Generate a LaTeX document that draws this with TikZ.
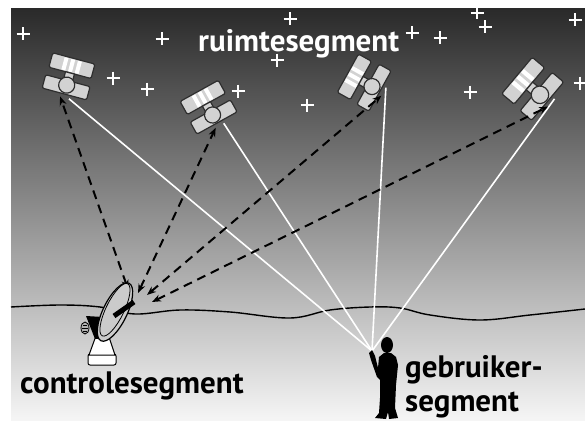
\documentclass[tikz,border=0pt]{standalone}
\usepackage{fontspec}
\setmainfont{PT Sans}
\usetikzlibrary{arrows.meta}
\definecolor{skytop}{HTML}{2A2A2A}
\definecolor{skymid}{HTML}{8C8C8C}
\definecolor{skybot}{HTML}{F5F5F5}
\definecolor{satgrey}{HTML}{D2D2D2}
\definecolor{outline}{HTML}{2E2E2E}
\tikzstyle{segtext} = [font=\fontsize{31}{34}\selectfont\bfseries, inner sep=0pt, anchor=base west]
\tikzstyle{ctrl} = [line width=2pt, dash pattern=on 9pt off 6pt, {Stealth[length=9pt,width=7pt]}-{Stealth[length=9pt,width=7pt]}]
\tikzstyle{user} = [white, line width=1.6pt]
\tikzstyle{ground} = [line width=1.4pt, black]
\tikzstyle{satpart} = [draw=outline, fill=satgrey, line width=1.2pt]
\tikzset{
  sat/.pic={
    \draw[satpart, rounded corners=1.5pt] (-19,-23) rectangle (19,-10);
    \foreach \u in {-8,-2,4} \fill[white] (\u,-22) rectangle ++(3.5,11);
    \draw[satpart] (-4,-10) rectangle (4,-3);
    \draw[satpart, rounded corners=2pt] (-20,-3) rectangle (20,9);
    \draw[satpart] (0,1) circle (7);
    \coordinate (-ctl) at (-3,12);
    \coordinate (-usr) at (5,12);
  },
  twinkle/.pic={
    \draw[white, line width=1.8pt] (-6.5,0) -- (6.5,0) (0,-6.5) -- (0,6.5);
  }
}
\begin{document}
\begin{tikzpicture}[x=1pt, y=-1pt]
\useasboundingbox (0,0) rectangle (585,420);
\fill[white] (0,0) rectangle (585,420);
\shade[top color=skytop, middle color=skymid, bottom color=skybot] (11,9) rectangle (585,420);

\foreach \p in {(23,34),(162,39),(290,19),(277,60),(113,78),(147,89),(238,91),(307,105),
  (412,33),(440,38),(477,13),(485,27),(575,20),(470,92),(580,83)}
  \pic at \p {twinkle};

\draw[ground] plot[smooth, tension=0.6] coordinates {(11,307) (60,305) (100,307) (135,314)
  (180,310) (230,312) (290,318) (330,310) (370,307) (400,308) (430,315) (480,320) (530,315) (585,309)};

\node (ruimte) [segtext, white] at (198,52) {ruimtesegment};
\node (controle) [segtext] at (20,393) {controlesegment};
\node (gebruiker) [segtext, anchor=north west, align=left] at (405,355) {gebruiker-\\segment};

\pic[rotate=-15, scale=1.15] (s1) at (67,84) {sat};
\pic[rotate=29, scale=1.15] (s2) at (212,114) {sat};
\pic[rotate=61, scale=1.15] (s3) at (371,86) {sat};
\pic[rotate=50, scale=1.25] (s4) at (539,94) {sat};

\coordinate (hand) at (372,351);
\coordinate (d1) at (128,289);
\coordinate (d2) at (138,293);
\coordinate (d3) at (147,295);
\coordinate (d4) at (152,302);

\foreach \s in {1,...,4}
  \draw[user] (hand) -- (s\s-usr);
\foreach \s in {1,...,4}
  \draw[ctrl] (d\s) -- (s\s-ctl);

% dish
\draw[fill=white, line width=1pt, rounded corners=2pt] (88,354) rectangle (116,365);
\draw[fill=white, line width=1pt] (97,333) -- (89,355) -- (115,355) -- (107,331) -- cycle;
\fill[black] (86,316) -- (103,317) -- (109,338) -- (95,339) -- cycle;
\draw[fill=gray!60, line width=0.8pt] (85,328) ellipse (4 and 6);
\draw[line width=0.6pt] (83,325) -- (87,325) (82,328) -- (88,328) (83,331) -- (87,331);
\draw[fill=skymid!40!skybot, line width=1.2pt, rotate around={64:(115,312)}] (115,312) ellipse (32 and 12);
\draw[line width=0.8pt, rotate around={64:(115,312)}] (117,311) ellipse (29 and 9);
\draw[line width=5pt] (114,316) -- (134,302);

% user
\fill[black] (387,345) ellipse (6 and 8);
\fill[black] (384,353) -- (379,357) -- (378,368) -- (375,356) -- (372,350) -- (369,353) -- (371,360)
  -- (377,377) -- (380,380) -- (380,398) -- (379,413) -- (375,418) -- (386,419) -- (388,412)
  -- (389,419) -- (398,418) -- (395,408) -- (396,385) -- (398,365) -- (396,357) -- (391,353) -- cycle;
\end{tikzpicture}
\end{document}
